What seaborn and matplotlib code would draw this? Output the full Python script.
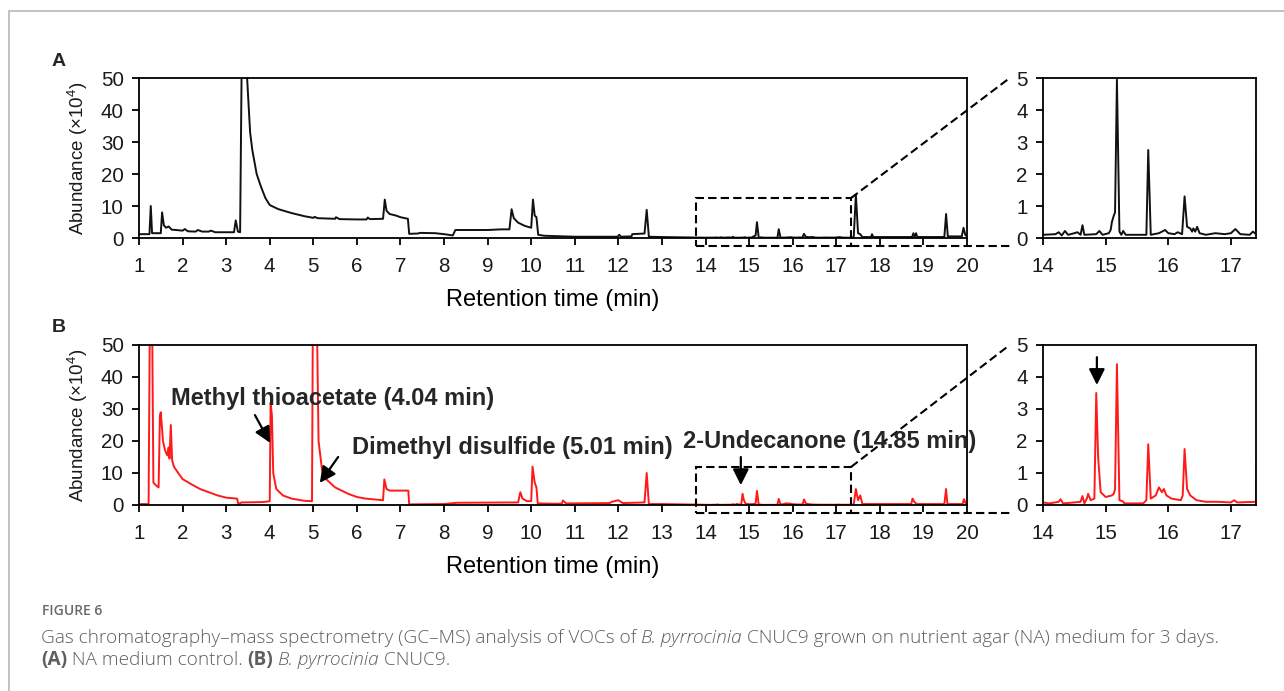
import numpy as np
import pandas as pd
import matplotlib
matplotlib.use("Agg")
import matplotlib.pyplot as plt
from matplotlib.lines import Line2D
from matplotlib.patches import Rectangle
import seaborn as sns

# ---------------- data ----------------
a_time = [1.00, 1.24, 1.27, 1.30, 1.50, 1.53, 1.57, 1.62, 1.68, 1.75, 1.85, 2.00, 2.05, 2.12,
          2.30, 2.35, 2.45, 2.60, 2.65, 2.75, 3.00, 3.18, 3.22, 3.27, 3.32, 3.36, 3.44, 3.50,
          3.55, 3.60, 3.70, 3.80, 3.90, 4.00, 4.20, 4.50, 4.80, 5.00, 5.03, 5.10, 5.50, 5.52,
          5.60, 6.00, 6.22, 6.25, 6.30, 6.60, 6.64, 6.68, 6.75, 6.90, 7.00, 7.17, 7.20, 7.40,
          7.45, 7.80, 8.00, 8.20, 8.26, 8.50, 9.00, 9.30, 9.50, 9.55, 9.60, 9.70, 9.85, 10.00,
          10.04, 10.08, 10.12, 10.16, 10.30, 11.00, 11.98, 12.02, 12.06, 12.30, 12.32, 12.60,
          12.65, 12.70, 13.00, 13.50,
          14.00, 14.20, 14.25, 14.30, 14.35, 14.40, 14.50, 14.55, 14.60, 14.63, 14.66, 14.85,
          14.90, 14.95, 15.05, 15.08, 15.10, 15.13, 15.15, 15.18, 15.22, 15.25, 15.28, 15.32,
          15.65, 15.68, 15.72, 15.85, 15.95, 16.00, 16.10, 16.15, 16.22, 16.26, 16.30, 16.35,
          16.38, 16.40, 16.43, 16.46, 16.50, 16.60, 16.75, 16.90, 17.00, 17.07, 17.15, 17.30,
          17.35, 17.40,
          17.45, 17.50, 17.55, 17.60, 17.80, 17.82, 17.85, 18.74, 18.77, 18.80, 18.83, 18.86,
          18.90, 19.48, 19.52, 19.56, 19.88, 19.92, 19.96, 20.00]
a_abund = [1.2, 1.2, 10.0, 1.5, 1.5, 8.0, 4.0, 3.2, 3.6, 2.6, 2.5, 2.3, 2.8, 2.1,
           2.0, 2.5, 2.0, 2.0, 2.3, 1.8, 1.8, 1.8, 5.5, 2.0, 1.8, 60.0, 60.0, 45.0,
           33.0, 27.5, 20.0, 16.0, 12.5, 10.3, 9.0, 7.8, 6.8, 6.3, 6.6, 6.2, 6.0, 6.5,
           5.9, 5.8, 5.8, 6.4, 5.9, 6.0, 12.0, 8.5, 7.5, 7.0, 6.5, 6.0, 1.3, 1.4,
           1.6, 1.5, 1.2, 0.8, 2.5, 2.5, 2.5, 2.7, 2.7, 9.0, 6.2, 4.8, 3.8, 3.2,
           12.0, 7.0, 6.5, 1.0, 0.7, 0.4, 0.4, 1.0, 0.4, 0.5, 1.2, 1.4,
           8.8, 0.4, 0.3, 0.2,
           0.10, 0.12, 0.18, 0.08, 0.22, 0.10, 0.15, 0.18, 0.10, 0.40, 0.10, 0.12,
           0.22, 0.10, 0.15, 0.25, 0.50, 0.70, 0.80, 4.95, 0.20, 0.10, 0.22, 0.10,
           0.10, 2.75, 0.10, 0.15, 0.25, 0.15, 0.12, 0.18, 0.12, 1.30, 0.35, 0.30,
           0.20, 0.30, 0.20, 0.35, 0.15, 0.10, 0.15, 0.12, 0.15, 0.28, 0.12, 0.10,
           0.20, 0.12,
           13.5, 1.5, 1.2, 0.3, 0.3, 1.2, 0.3, 0.3, 1.5, 0.3, 1.5, 0.3,
           0.3, 0.3, 7.5, 0.5, 0.5, 3.2, 1.0, 0.5]

b_time = [1.00, 1.22, 1.25, 1.30, 1.33, 1.40, 1.45, 1.48, 1.50, 1.55, 1.60, 1.65, 1.68, 1.70,
          1.73, 1.76, 1.80, 1.90, 2.00, 2.20, 2.40, 2.60, 2.80, 3.00, 3.25, 3.28, 3.35, 3.80,
          3.90, 4.00, 4.02, 4.05, 4.08, 4.15, 4.30, 4.50, 4.80, 4.97, 4.99, 5.08, 5.12, 5.20,
          5.30, 5.50, 5.80, 6.00, 6.20, 6.60, 6.63, 6.68, 6.75, 7.18, 7.20, 8.00, 8.30, 9.70,
          9.75, 9.80, 9.90, 10.00, 10.03, 10.08, 10.12, 10.15, 10.50, 10.70, 10.73, 10.80,
          11.80, 11.85, 12.00, 12.10, 12.60, 12.65, 12.70, 13.00, 13.50,
          14.00, 14.10, 14.25, 14.28, 14.32, 14.50, 14.60, 14.63, 14.66, 14.70, 14.72, 14.76,
          14.82, 14.85, 14.88, 14.92, 15.00, 15.10, 15.13, 15.15, 15.18, 15.22, 15.27, 15.30,
          15.60, 15.65, 15.68, 15.72, 15.80, 15.85, 15.90, 15.93, 15.97, 16.05, 16.20, 16.23,
          16.26, 16.30, 16.35, 16.45, 16.60, 16.80, 17.00, 17.05, 17.10, 17.40,
          17.45, 17.50, 17.55, 17.60, 18.10, 18.72, 18.75, 18.80, 18.85, 19.48, 19.52, 19.55,
          19.90, 19.93, 19.97, 20.00]
b_abund = [0.3, 0.3, 60.0, 60.0, 7.0, 6.0, 5.5, 28.0, 29.0, 20.0, 17.0, 15.5, 18.0, 14.5,
           25.0, 14.0, 12.0, 10.0, 8.1, 6.5, 5.0, 4.0, 3.0, 2.3, 2.0, 0.3, 0.8, 0.9,
           1.0, 1.2, 32.0, 28.0, 10.0, 5.0, 3.0, 2.0, 1.3, 1.2, 60.0, 60.0, 20.0, 11.0,
           8.0, 5.5, 3.5, 2.5, 2.0, 1.5, 8.0, 5.0, 4.5, 4.5, 0.2, 0.3, 0.7, 0.8,
           4.0, 2.0, 1.2, 1.2, 12.0, 7.0, 5.5, 0.5, 0.4, 0.4, 1.4, 0.5,
           0.6, 1.0, 1.5, 0.6, 0.8, 10.0, 0.3, 0.3, 0.2,
           0.08, 0.05, 0.10, 0.18, 0.05, 0.08, 0.10, 0.28, 0.05, 0.20, 0.35, 0.15,
           0.20, 3.50, 1.50, 0.40, 0.25, 0.30, 0.35, 0.50, 4.40, 0.15, 0.12, 0.05,
           0.05, 0.15, 1.90, 0.20, 0.30, 0.55, 0.40, 0.50, 0.30, 0.20, 0.15, 0.30,
           1.75, 0.50, 0.30, 0.15, 0.10, 0.10, 0.08, 0.15, 0.08, 0.10,
           5.0, 1.5, 3.0, 0.3, 0.3, 0.3, 2.0, 0.8, 0.3, 0.3, 5.0, 0.3,
           0.3, 1.8, 0.5, 0.3]

x_ticks_main = list(range(1, 21))
y_ticks_main = [0, 10, 20, 30, 40, 50]
x_ticks_zoom = [14, 15, 16, 17]
y_ticks_zoom = [0, 1, 2, 3, 4, 5]
zoom_range = (14.0, 17.4)
box_x = (13.78, 17.34)

annotations_b = [
    ("Methyl thioacetate (4.04 min)", (1.73, 33.4), (3.66, 28.1), (4.01, 19.4)),
    ("Dimethyl disulfide (5.01 min)", (5.89, 18.1), (5.57, 15.0), (5.15, 6.9)),
    ("2-Undecanone (14.85 min)", (13.48, 19.7), (14.81, 15.0), (14.81, 6.2)),
]

# ---------------- style ----------------
sns.set_theme(style="ticks")
plt.rcParams['font.family'] = ['Liberation Sans', 'DejaVu Sans']
plt.rcParams['mathtext.fontset'] = 'custom'
plt.rcParams['mathtext.rm'] = 'Liberation Sans'
plt.rcParams['axes.linewidth'] = 1.2

W, H = 1284, 691
fig = plt.figure(figsize=(W / 100, H / 100), dpi=100)
fig.patch.set_facecolor('white')

def px_axes(left, top, right, bottom):
    return fig.add_axes([left / W, 1 - bottom / H, (right - left) / W, (bottom - top) / H])

TICK_FS = 14.8
TICK_C = '#1a1a1a'

def style_axes(ax):
    for s in ax.spines.values():
        s.set_visible(True)
        s.set_color('black')
        s.set_linewidth(1.3)
    ax.tick_params(axis='both', direction='out', length=5, width=1.3, color='black',
                   labelcolor=TICK_C, labelsize=TICK_FS)
    ax.tick_params(axis='x', pad=9)
    ax.tick_params(axis='y', pad=6)
    ax.set_facecolor('white')
    ax.grid(False)

panels = [
    dict(label='A', t=a_time, y=a_abund, color='#111111', top=78, bottom=238, box_top=12.5),
    dict(label='B', t=b_time, y=b_abund, color='#ff1a1a', top=345, bottom=505, box_top=11.9),
]

for p in panels:
    df = pd.DataFrame({'time': p['t'], 'abund': p['y']})
    ax = px_axes(139, p['top'], 967, p['bottom'])
    sns.lineplot(data=df, x='time', y='abund', ax=ax, color=p['color'], lw=1.4,
                 estimator=None, sort=False)
    ax.set_xlim(1, 20)
    ax.set_ylim(0, 50)
    ax.set_xticks(x_ticks_main)
    ax.set_yticks(y_ticks_main)
    style_axes(ax)
    ax.set_xlabel('Retention time (min)', fontsize=17, labelpad=9, color='black')
    ax.set_ylabel('Abundance (×10$^{4}$)', fontsize=13.5, labelpad=8, color='#1a1a1a')

    # dashed zoom box + connectors
    dash = dict(color='black', lw=1.5, ls=(0, (4, 2)), clip_on=False)
    ax.add_patch(Rectangle((box_x[0], -2.5), box_x[1] - box_x[0], p['box_top'] + 2.5,
                           fill=False, ec='black', lw=1.5, ls=(0, (4, 2)), clip_on=False,
                           zorder=5))
    ax.plot([box_x[1], 20.98], [-2.5, -2.5], **dash)
    ax.plot([box_x[1], 20.98], [p['box_top'], 50], **dash)

    # zoom axes
    axz = px_axes(1043, p['top'], 1256, p['bottom'])
    dz = df[(df['time'] >= zoom_range[0] - 0.05) & (df['time'] <= zoom_range[1] + 0.05)]
    sns.lineplot(data=dz, x='time', y='abund', ax=axz, color=p['color'], lw=1.4,
                 estimator=None, sort=False)
    axz.set_xlim(*zoom_range)
    axz.set_ylim(0, 5)
    axz.set_xticks(x_ticks_zoom)
    axz.set_yticks(y_ticks_zoom)
    style_axes(axz)
    axz.set_xlabel('')
    axz.set_ylabel('')

    fig.text(52 / W, 1 - (p['top'] - 17) / H, p['label'], fontsize=14, fontweight='bold',
             ha='left', va='center')

    if p['label'] == 'B':
        for text, tpos, a0, a1 in annotations_b:
            ax.text(tpos[0], tpos[1], text, fontsize=17, fontweight='bold', ha='left',
                    va='center', zorder=6)
            ax.annotate('', xy=a1, xytext=a0,
                        arrowprops=dict(arrowstyle='-|>,head_length=0.8,head_width=0.4',
                                        color='black', lw=1.6, shrinkA=0, shrinkB=0),
                        annotation_clip=False)
        axz.annotate('', xy=(14.86, 3.75), xytext=(14.86, 4.62),
                     arrowprops=dict(arrowstyle='-|>,head_length=0.8,head_width=0.4',
                                     color='black', lw=1.6, shrinkA=0, shrinkB=0))

# ---------------- frame & caption ----------------
frame_c = '#bdbdbd'
fig.add_artist(Line2D([9 / W, 1.0], [1 - 11 / H, 1 - 11 / H], color=frame_c, lw=1.3,
                      transform=fig.transFigure))
fig.add_artist(Line2D([9 / W, 9 / W], [1 - 11 / H, 0], color=frame_c, lw=1.3,
                      transform=fig.transFigure))

cap_c = '#5f5f5f'
cap_font = ['Open Sans', 'DejaVu Sans']
fig.text(42 / W, 1 - 611 / H, 'FIGURE 6', fontsize=10, fontweight='semibold',
         family=cap_font, color='#6a6a6a', ha='left', va='center')

renderer = fig.canvas.get_renderer()

def draw_runs(x_px, y_px, runs, fs=13.7):
    x = x_px
    for s, weight, style in runs:
        t = fig.text(x / W, 1 - y_px / H, s, fontsize=fs, fontweight=weight, fontstyle=style,
                     family=cap_font, color=cap_c, ha='left', va='center')
        bb = t.get_window_extent(renderer)
        x += bb.width

line1 = [("Gas chromatography\u2013mass spectrometry (GC\u2013MS) analysis of VOCs of\u00a0", 'light', 'normal'),
         ("B. pyrrocinia", 'light', 'italic'),
         ("\u00a0CNUC9 grown on nutrient agar (NA) medium for 3 days.", 'light', 'normal')]
line2 = [("(A)", 'bold', 'normal'),
         ("\u00a0NA medium control.\u00a0", 'light', 'normal'),
         ("(B)", 'bold', 'normal'),
         ("\u00a0", 'light', 'normal'),
         ("B. pyrrocinia", 'light', 'italic'),
         ("\u00a0CNUC9.", 'light', 'normal')]
draw_runs(41, 638, line1)
draw_runs(41, 660, line2)

fig.savefig('out.png', dpi=100, facecolor='white')
